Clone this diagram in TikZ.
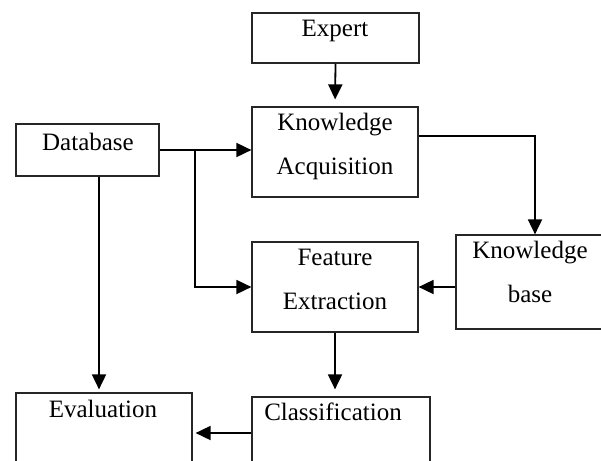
\documentclass[tikz,border=0pt]{standalone}
\usepackage{fontspec}
\setmainfont{Liberation Serif}
\usetikzlibrary{arrows.meta}
\begin{document}
\begin{tikzpicture}[x=1pt,y=-1pt,>={Triangle[length=15pt,width=14pt]}]
	\tikzstyle{box}=[rectangle,draw=black!85,line width=1.2pt,inner sep=0pt]
	\tikzstyle{txt}=[anchor=base,align=center,inner sep=0pt,font=\fontsize{25}{43.5}\selectfont]
	\tikzstyle{link}=[->,line width=1.8pt]
	\useasboundingbox (0,0) rectangle (601,460);
	\clip (0,0) rectangle (601,460);
	\node[box,minimum width=167pt,minimum height=50pt](exp) at (335.5,38) {};
	\node[box,minimum width=166pt,minimum height=90pt](ka) at (335,152) {};
	\node[box,minimum width=143pt,minimum height=52pt](db) at (87.5,150) {};
	\node[box,minimum width=166pt,minimum height=90pt](fe) at (335,287) {};
	\node[box,minimum width=158pt,minimum height=94pt](kb) at (535,282) {};
	\node[box,minimum width=176pt,minimum height=100pt](ev) at (104,443) {};
	\node[box,minimum width=178pt,minimum height=100pt](cl) at (341,447) {};
	% base anchor sits on the last line
	\node[txt](exptxt) at (335,37) {Expert};
	\node[txt](katxt) at (335,174) {Knowledge\\Acquisition};
	\node[txt](dbtxt) at (88,150) {Database};
	\node[txt](fetxt) at (335,309) {Feature\\Extraction};
	\node[txt](kbtxt) at (530,302) {Knowledge\\base};
	\node[txt](evtxt) at (103,417) {Evaluation};
	\node[txt](cltxt) at (333,420) {Classification};
	\coordinate (jn) at (195,150);
	\draw[link,shorten >=7pt] (exp.south) -- (ka.north);
	\draw[link] (db.east) -- (ka.west |- db.east);
	\draw[link] (jn) |- (fe.west);
	\draw[link,shorten >=3pt] ([xshift=11.5pt]db.south) -- ([xshift=11.5pt]db.south |- ev.north);
	\draw[link] ([yshift=16pt]ka.east) -| (kb.north);
	\draw[link] (kb.west |- fe.east) -- (fe.east);
	\draw[link,shorten >=7pt] (fe.south) -- (cl.north -| fe.south);
	\draw[link,shorten >=3pt] ([yshift=14pt]cl.west) -- ([yshift=14pt]cl.west -| ev.east);
\end{tikzpicture}
\end{document}
